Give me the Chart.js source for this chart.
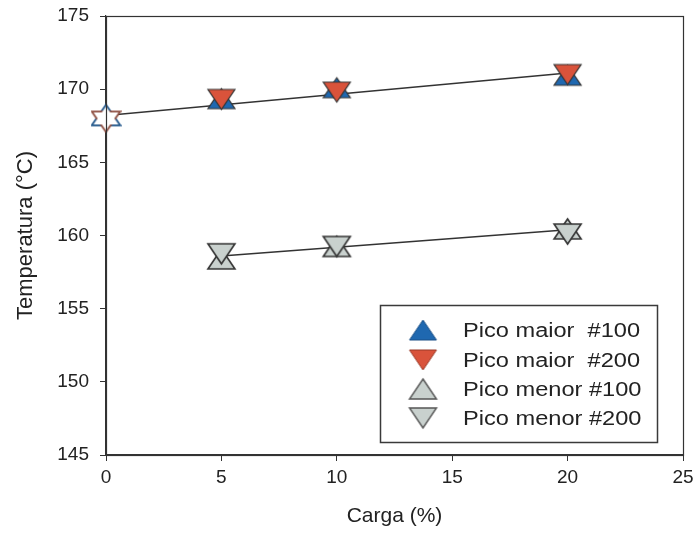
<!DOCTYPE html>
<html>
<head>
<meta charset="utf-8">
<script src="https://cdn.jsdelivr.net/npm/chart.js@4/dist/chart.umd.min.js"></script>
<style>
html,body{margin:0;padding:0;background:#fff;}
</style>
</head>
<body>
<canvas id="c" width="697" height="533"></canvas>
<script>
// ---- data ----
const cargaMaior = [0, 5, 10, 20];
const picoMaior100 = [168.0, 169.35, 170.1, 170.95];
const picoMaior200 = [168.0, 169.3, 169.8, 171.0];
const cargaMenor = [5, 10, 20];
const picoMenor100 = [158.4, 159.25, 160.45];
const picoMenor200 = [158.75, 159.25, 160.1];
const trendMaiorX = [0, 20];
const trendMaiorY = [168.2, 171.1];
const trendMenorX = [5, 20];
const trendMenorY = [158.6, 160.4];
const seriesLabels = ['Pico maior  #100', 'Pico maior  #200', 'Pico menor #100', 'Pico menor #200'];
const xTicks = [0, 5, 10, 15, 20, 25];
const yTicks = [145, 150, 155, 160, 165, 170, 175];

const pts = (xs, ys) => xs.map((x, i) => ({x: x, y: ys[i]}));

const BLUE = '#1f68b0', RED = '#d9533b', GRAY = '#c9d1ce', EDGE = '#333';
const FONT = '"Liberation Sans", Arial, sans-serif';

function triPath(ctx, cx, cy, w, h, up) {
  ctx.beginPath();
  if (up) {
    ctx.moveTo(cx, cy - h / 2); ctx.lineTo(cx + w / 2, cy + h / 2); ctx.lineTo(cx - w / 2, cy + h / 2);
  } else {
    ctx.moveTo(cx - w / 2, cy - h / 2); ctx.lineTo(cx + w / 2, cy - h / 2); ctx.lineTo(cx, cy + h / 2);
  }
  ctx.closePath();
}
function makeTri(fill, stroke, up, lw) {
  const w = 27, h = 20, pad = 3;
  const c = document.createElement('canvas');
  c.width = w + 2 * pad; c.height = h + 2 * pad;
  const ctx = c.getContext('2d');
  triPath(ctx, c.width / 2, c.height / 2, w, h, up);
  ctx.fillStyle = fill; ctx.fill();
  ctx.strokeStyle = stroke; ctx.lineWidth = lw; ctx.stroke();
  return c;
}
// centroid-centred triangles for the hexagram at x = 0
const SW = 25, SH = 18, SPAD = 3;
function starCanvas() {
  const c = document.createElement('canvas');
  c.width = SW + 2 * SPAD; c.height = Math.round(SH * 4 / 3) + 2 * SPAD;
  return c;
}
function starTri(ctx, c, up) {
  const cx = c.width / 2, cy = c.height / 2, off = SH / 6;
  triPath(ctx, cx, up ? cy - off : cy + off, SW, SH, up);
}
function makeStarUp() {
  const c = starCanvas(), ctx = c.getContext('2d');
  starTri(ctx, c, true);
  ctx.fillStyle = '#fff'; ctx.fill();
  ctx.strokeStyle = '#2a5d8f'; ctx.lineWidth = 2.5; ctx.stroke();
  return c;
}
function makeStar() {
  const c = starCanvas(), ctx = c.getContext('2d');
  ctx.lineWidth = 3.5;
  starTri(ctx, c, true); ctx.strokeStyle = '#2a5d8f'; ctx.stroke();
  starTri(ctx, c, false); ctx.strokeStyle = '#8c4a3c'; ctx.stroke();
  ctx.fillStyle = '#fff';
  starTri(ctx, c, true); ctx.fill();
  starTri(ctx, c, false); ctx.fill();
  return c;
}
const imgBlueUp = makeTri(BLUE, EDGE, true, 1.2);
const imgRedDown = makeTri(RED, EDGE, false, 1.2);
const imgGrayUp = makeTri(GRAY, EDGE, true, 1.6);
const imgGrayDown = makeTri(GRAY, EDGE, false, 1.6);
const imgWhiteUp = makeStarUp();
const imgStar = makeStar();
const legBlueUp = makeTri(BLUE, '#1a4f86', true, 1);
const legRedDown = makeTri(RED, '#9a3a28', false, 1);
const legGrayUp = makeTri(GRAY, '#555', true, 1.4);
const legGrayDown = makeTri(GRAY, '#555', false, 1.4);

const boxPlugin = {
  id: 'box',
  afterDatasetsDraw(chart) {
    const a = chart.chartArea, ctx = chart.ctx;
    ctx.save();
    ctx.strokeStyle = '#333';
    ctx.lineWidth = 1.2;
    ctx.strokeRect(Math.round(a.left) + 0.5, Math.round(a.top) + 0.5,
                   Math.round(a.right - a.left), Math.round(a.bottom - a.top));
    ctx.restore();
  }
};

const legendPlugin = {
  id: 'innerLegend',
  afterDraw(chart) {
    const ctx = chart.ctx;
    const bx = 380, by = 305, bw = 277, bh = 137;
    ctx.save();
    ctx.fillStyle = '#fff';
    ctx.fillRect(bx, by, bw, bh);
    ctx.strokeStyle = '#3a3a3a';
    ctx.lineWidth = 1.5;
    ctx.strokeRect(bx + 0.5, by + 0.5, bw, bh);
    const rows = [330, 360, 389, 418];
    chart.data.datasets.filter(ds => ds.legendImg).forEach((ds, i) => {
      const im = ds.legendImg;
      ctx.drawImage(im, 423 - im.width / 2, rows[i] - im.height / 2);
      ctx.save();
      ctx.translate(463, rows[i] + 1);
      ctx.scale(1.18, 1);
      ctx.fillStyle = '#222';
      ctx.font = '20px ' + FONT;
      ctx.textBaseline = 'middle';
      ctx.textAlign = 'left';
      ctx.fillText(ds.label, 0, 0);
      ctx.restore();
    });
    ctx.restore();
  }
};

new Chart(document.getElementById('c'), {
  type: 'scatter',
  data: {
    datasets: [
      {
        label: seriesLabels[0], data: pts(cargaMaior, picoMaior100), clip: false,
        pointStyle: (c) => c.dataIndex === 0 ? imgWhiteUp : imgBlueUp,
        pointRadius: 12, pointHoverRadius: 12, backgroundColor: BLUE, borderColor: EDGE,
        legendImg: legBlueUp, order: 3
      },
      {
        label: seriesLabels[1], data: pts(cargaMaior, picoMaior200), clip: false,
        pointStyle: (c) => c.dataIndex === 0 ? imgStar : imgRedDown,
        pointRadius: 12, pointHoverRadius: 12, backgroundColor: RED, borderColor: EDGE,
        legendImg: legRedDown, order: 2
      },
      {
        label: seriesLabels[2], data: pts(cargaMenor, picoMenor100), clip: false,
        pointStyle: imgGrayUp,
        pointRadius: 12, pointHoverRadius: 12, backgroundColor: GRAY, borderColor: EDGE,
        legendImg: legGrayUp, order: 5
      },
      {
        label: seriesLabels[3], data: pts(cargaMenor, picoMenor200), clip: false,
        pointStyle: imgGrayDown,
        pointRadius: 12, pointHoverRadius: 12, backgroundColor: GRAY, borderColor: EDGE,
        legendImg: legGrayDown, order: 4
      },
      {
        label: 'tendência maior', data: pts(trendMaiorX, trendMaiorY), showLine: true,
        pointRadius: 0, borderColor: '#333', borderWidth: 1.5, order: 10
      },
      {
        label: 'tendência menor', data: pts(trendMenorX, trendMenorY), showLine: true,
        pointRadius: 0, borderColor: '#333', borderWidth: 1.5, order: 10
      }
    ]
  },
  options: {
    responsive: false,
    animation: false,
    layout: {padding: {top: 16, right: 14, left: 0, bottom: 0}},
    plugins: {legend: {display: false}, tooltip: {enabled: false}},
    scales: {
      x: {
        type: 'linear', min: 0, max: 25,
        afterBuildTicks: (s) => { s.ticks = xTicks.map(v => ({value: v})); },
        afterFit: (s) => { s.height = 78; s.paddingLeft = 0; s.paddingRight = 0; },
        grid: {drawOnChartArea: false, drawTicks: true, tickLength: 6, color: '#333'},
        border: {display: true, color: '#333', width: 1.2},
        ticks: {color: '#222', font: {size: 19, family: FONT}, padding: 5, maxRotation: 0},
        title: {display: true, text: 'Carga (%)', color: '#222', font: {size: 21, family: FONT}, padding: {top: 0, bottom: 4}}
      },
      y: {
        type: 'linear', min: 145, max: 175,
        afterBuildTicks: (s) => { s.ticks = yTicks.map(v => ({value: v})); },
        afterFit: (s) => { s.width = 106; s.paddingTop = 0; s.paddingBottom = 0; },
        grid: {drawOnChartArea: false, drawTicks: true, tickLength: 6, color: '#333'},
        border: {display: true, color: '#333', width: 1.2},
        ticks: {color: '#222', font: {size: 19, family: FONT}, padding: 11},
        title: {display: true, text: 'Temperatura (°C)', color: '#222', font: {size: 22, family: FONT}, padding: {top: 13, bottom: 0}}
      }
    }
  },
  plugins: [boxPlugin, legendPlugin]
});
</script>
</body>
</html>
